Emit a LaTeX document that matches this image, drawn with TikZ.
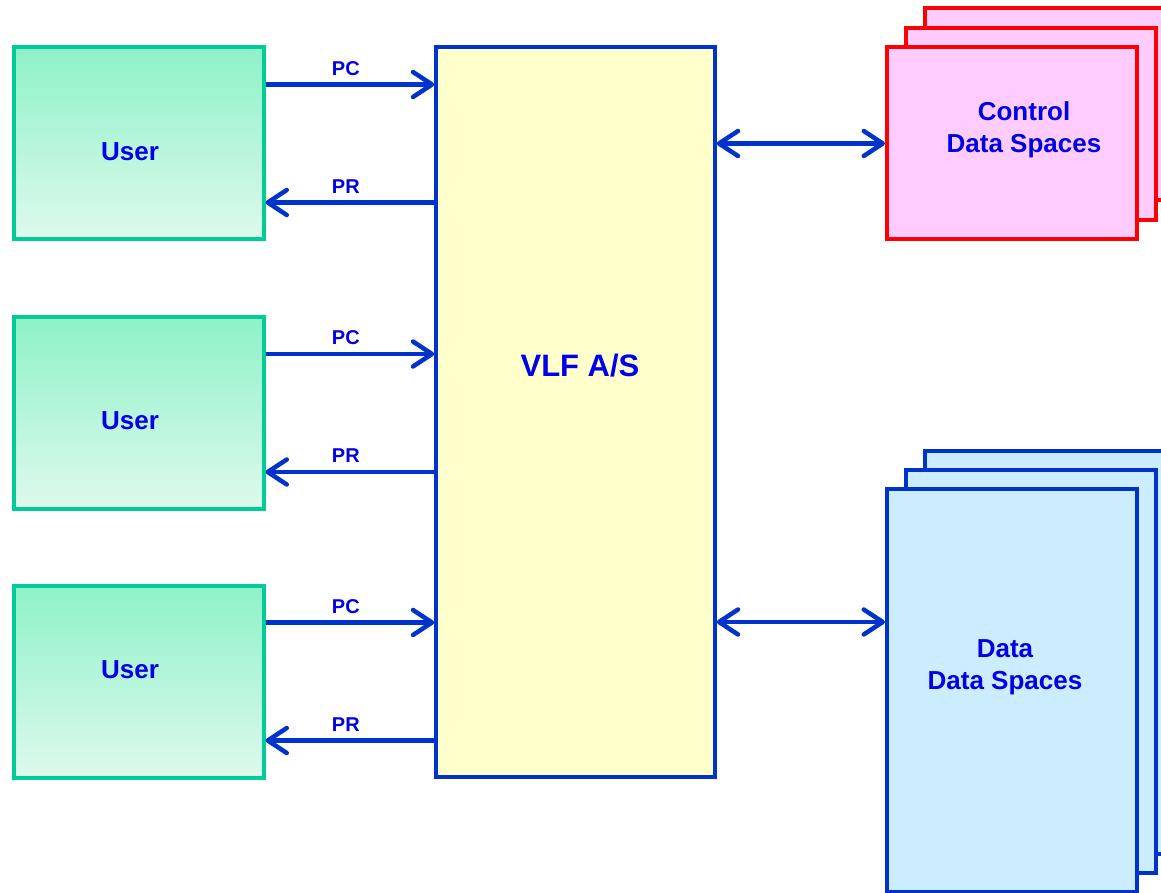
\documentclass[tikz,border=0pt]{standalone}
\usepackage{fontspec}
\setmainfont{Liberation Sans}
\usetikzlibrary{arrows.meta}
\definecolor{txtblue}{RGB}{0,0,230}
\definecolor{lnblue}{RGB}{0,51,204}
\definecolor{usrline}{RGB}{0,204,153}
\definecolor{usrtop}{RGB}{142,242,200}
\definecolor{usrbot}{RGB}{222,249,236}
\definecolor{vlffill}{RGB}{255,255,204}
\definecolor{ctlfill}{RGB}{255,204,255}
\definecolor{ctlline}{RGB}{255,0,0}
\definecolor{datfill}{RGB}{204,236,255}
\tikzset{
  userbox/.style={draw=usrline, line width=4pt, top color=usrtop, bottom color=usrbot, minimum width=250pt, minimum height=192pt, inner sep=0pt},
  vlfbox/.style={draw=lnblue, line width=3.5pt, fill=vlffill, minimum width=279pt, minimum height=730pt, inner sep=0pt},
  ctlbox/.style={draw=ctlline, line width=4pt, fill=ctlfill, minimum width=250pt, minimum height=192pt, inner sep=0pt},
  datbox/.style={draw=lnblue, line width=4pt, fill=datfill, minimum width=250pt, minimum height=403pt, inner sep=0pt},
  bigtxt/.style={text=txtblue, font=\fontsize{26}{32}\selectfont\bfseries, align=center},
  vlftxt/.style={text=txtblue, font=\fontsize{31}{37}\selectfont\bfseries},
  lbl/.style={text=txtblue, font=\fontsize{20}{24}\selectfont\bfseries, inner sep=3pt},
  tip/.tip={Straight Barb[length=19pt,width=25pt,line width=4.5pt,round]},
  arr/.style={draw=lnblue, line width=4.5pt, -tip},
  darr/.style={draw=lnblue, line width=4.5pt, tip-tip}
}
\begin{document}
\begin{tikzpicture}[x=1pt,y=-1pt]
\useasboundingbox (0,0) rectangle (1161,893);
\clip (0,0) rectangle (1161,893);
% users
\node[userbox] (u1) at (138.5,143.5) {};
\node[userbox] (u2) at (138.5,413) {};
\node[userbox] (u3) at (138.5,681.5) {};
\node[bigtxt] (u1t) at (130,152) {User};
\node[bigtxt] (u2t) at (130,421) {User};
\node[bigtxt] (u3t) at (130,670) {User};
% VLF
\node[vlfbox] (vlf) at (575.5,412) {};
\node[vlftxt] (vlft) at (580,366) {VLF A/S};
% control data spaces
\node[ctlbox] (ctlb) at (1050,104.5) {};
\node[ctlbox] (ctlm) at (1031,124) {};
\node[ctlbox] (ctl) at (1012,143.5) {};
\node[bigtxt] (ctlt) at (1024,130) {Control\\Data Spaces};
% data data spaces
\node[datbox] (datb) at (1050,652.5) {};
\node[datbox] (datm) at (1031,671.5) {};
\node[datbox] (dat) at (1012,690.5) {};
\node[bigtxt] (datt) at (1005,667) {Data\\Data Spaces};
% user arrows
\foreach \u in {u1,u2,u3}{
  \draw[arr] ([yshift=-39pt]\u.north east) -- ([yshift=-39pt]\u.north east -| vlf.west)
    node[lbl, midway, above=4pt, xshift=-4pt] (\u pc) {PC};
  \draw[arr] ([yshift=39pt]\u.south east -| vlf.west) -- ([yshift=39pt]\u.south east)
    node[lbl, midway, above=4pt, xshift=-4pt] (\u pr) {PR};
}
% double arrows
\draw[darr] (vlf.east |- ctl.west) -- (ctl.west);
\coordinate (dj) at ([yshift=-135pt]dat.north west);
\draw[darr] (vlf.east |- dj) -- (dj);
\end{tikzpicture}
\end{document}
